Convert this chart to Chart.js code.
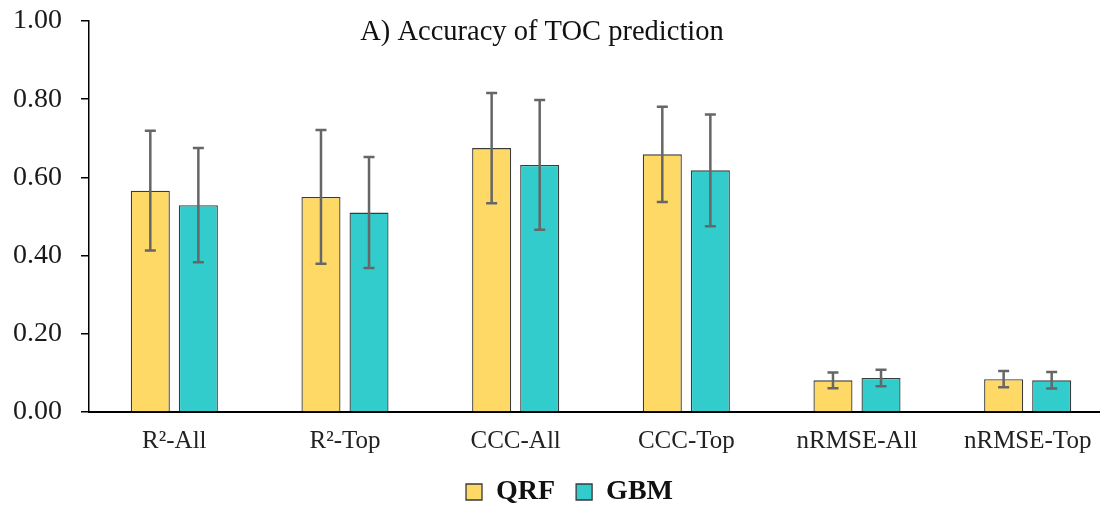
<!DOCTYPE html>
<html>
<head>
<meta charset="utf-8">
<script src="https://cdn.jsdelivr.net/npm/chart.js@4.4.0/dist/chart.umd.min.js"></script>
<style>
  html, body { margin: 0; padding: 0; background: #fff; overflow: hidden; }
  #wrap { width: 1114px; height: 516px; }
</style>
</head>
<body>
<div id="wrap"><canvas id="chart" width="1114" height="516"></canvas></div>
<script>
// categories and values
var categories = ["R\u00b2-All", "R\u00b2-Top", "CCC-All", "CCC-Top", "nRMSE-All", "nRMSE-Top"];
var qrfValues = [0.566, 0.550, 0.675, 0.659, 0.081, 0.084];
var qrfErrors = [0.153, 0.171, 0.141, 0.122, 0.020, 0.021];
var gbmValues = [0.529, 0.510, 0.632, 0.618, 0.087, 0.081];
var gbmErrors = [0.146, 0.142, 0.166, 0.143, 0.021, 0.021];
var yTicks = [0, 0.2, 0.4, 0.6, 0.8, 1.0];

var serif = "'Liberation Serif', 'Times New Roman', serif";

//error bars drawn from the scale for each bar element
var errorBars = {
  id: 'errorBars',
  afterDatasetsDraw: function(chart) {
    var ctx = chart.ctx;
    var yScale = chart.scales.y;
    ctx.save();
    ctx.strokeStyle = '#666666';
    ctx.lineWidth = 2.5;
    chart.data.datasets.forEach(function(ds, i) {
      var meta = chart.getDatasetMeta(i);
      meta.data.forEach(function(bar, j) {
        var v = ds.data[j], e = ds.errors[j];
        var yTop = yScale.getPixelForValue(v + e);
        var yBot = yScale.getPixelForValue(v - e);
        ctx.beginPath();
        ctx.moveTo(bar.x, yTop); ctx.lineTo(bar.x, yBot);
        ctx.moveTo(bar.x - 5.5, yTop); ctx.lineTo(bar.x + 5.5, yTop);
        ctx.moveTo(bar.x - 5.5, yBot); ctx.lineTo(bar.x + 5.5, yBot);
        ctx.stroke();
      });
    });
    ctx.restore();
  }
};

//title sits inside the plot area
var innerTitle = {
  id: 'innerTitle',
  afterDraw: function(chart) {
    var ctx = chart.ctx;
    ctx.save();
    ctx.font = "28.5px " + serif;
    ctx.fillStyle = '#111111';
    ctx.textAlign = 'center';
    ctx.textBaseline = 'middle';
    ctx.fillText("A) Accuracy of TOC prediction", 542, 33);
    ctx.restore();
  }
};

//nudge the legend a little right, like in the figure
var legendShift = {
  id: 'legendShift',
  afterLayout: function(chart) {
    chart.legend.left += 7;
    chart.legend.right += 7;
  }
};

var barChart = new Chart(document.getElementById("chart"), {
  type: 'bar',
  data: {
    labels: categories,
    datasets: [{
      label: "QRF",
      data: qrfValues,
      errors: qrfErrors,
      backgroundColor: "#FFD966",
      borderColor: "#3a3a3a",
      borderWidth: 1.3
    }, {
      label: "GBM",
      data: gbmValues,
      errors: gbmErrors,
      backgroundColor: "#33CCCC",
      borderColor: "#3a3a3a",
      borderWidth: 1.3
    }]
  },
  options: {
    responsive: false,
    animation: false,
    categoryPercentage: 0.563,
    barPercentage: 0.8125,
    layout: { padding: { left: 12, right: 1, top: 21, bottom: 0 } },
    scales: {
      x: {
        afterFit: function(axis) { axis.height = 45; },
        grid: { display: false, drawTicks: false },
        border: { display: true, color: '#000000', width: 2 },
        ticks: { color: '#222222', padding: 14, font: { family: serif, size: 25 } }
      },
      y: {
        min: 0,
        max: 1,
        afterFit: function(axis) {
          axis.width = 77;
          axis.paddingTop = 0;
          axis.paddingBottom = 0;
        },
        afterBuildTicks: function(axis) {
          axis.ticks = yTicks.map(function(v) { return { value: v }; });
        },
        grid: { display: true, drawOnChartArea: false, drawTicks: true, tickLength: 8, color: '#000000', lineWidth: 1.5 },
        border: { display: true, color: '#000000', width: 1.5 },
        ticks: {
          color: '#1a1a1a',
          padding: 19,
          font: { family: serif, size: 28 },
          callback: function(v) { return Number(v).toFixed(2); }
        }
      }
    },
    plugins: {
      title: { display: false },
      tooltip: { enabled: false },
      legend: {
        position: 'bottom',
        labels: {
          boxWidth: 16,
          boxHeight: 16,
          padding: 21,
          color: '#111111',
          font: { family: serif, size: 28, weight: 'bold' }
        }
      }
    }
  },
  plugins: [errorBars, innerTitle, legendShift]
});
</script>
</body>
</html>
